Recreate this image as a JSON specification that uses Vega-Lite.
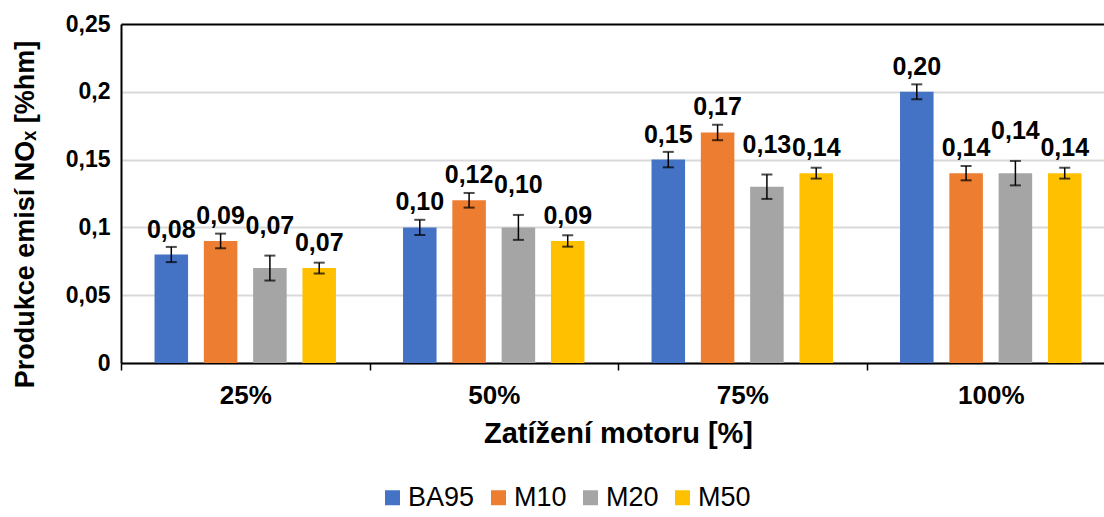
{
  "$schema": "https://vega.github.io/schema/vega-lite/v6.json",
  "width": 983,
  "height": 339,
  "autosize": {"type": "none"},
  "padding": {"left": 121, "top": 24, "right": 0, "bottom": 154},
  "background": "white",
  "config": {
    "locale": {"number": {"decimal": ",", "thousands": " ", "grouping": [3], "currency": ["", ""]}},
    "font": "Liberation Sans",
    "view": {"stroke": null}
  },
  "data": {
    "values": [
      {"load": "25%", "fuel": "BA95", "value": 0.08, "lo": 0.0744, "hi": 0.0856},
      {"load": "25%", "fuel": "M10", "value": 0.09, "lo": 0.0846, "hi": 0.0954},
      {"load": "25%", "fuel": "M20", "value": 0.07, "lo": 0.0608, "hi": 0.0792},
      {"load": "25%", "fuel": "M50", "value": 0.07, "lo": 0.066, "hi": 0.074},
      {"load": "50%", "fuel": "BA95", "value": 0.10, "lo": 0.0944, "hi": 0.1056},
      {"load": "50%", "fuel": "M10", "value": 0.12, "lo": 0.1146, "hi": 0.1254},
      {"load": "50%", "fuel": "M20", "value": 0.10, "lo": 0.0908, "hi": 0.1092},
      {"load": "50%", "fuel": "M50", "value": 0.09, "lo": 0.0858, "hi": 0.0942},
      {"load": "75%", "fuel": "BA95", "value": 0.15, "lo": 0.1443, "hi": 0.1557},
      {"load": "75%", "fuel": "M10", "value": 0.17, "lo": 0.1643, "hi": 0.1757},
      {"load": "75%", "fuel": "M20", "value": 0.13, "lo": 0.121, "hi": 0.139},
      {"load": "75%", "fuel": "M50", "value": 0.14, "lo": 0.136, "hi": 0.144},
      {"load": "100%", "fuel": "BA95", "value": 0.20, "lo": 0.1945, "hi": 0.2055},
      {"load": "100%", "fuel": "M10", "value": 0.14, "lo": 0.1347, "hi": 0.1453},
      {"load": "100%", "fuel": "M20", "value": 0.14, "lo": 0.131, "hi": 0.149},
      {"load": "100%", "fuel": "M50", "value": 0.14, "lo": 0.136, "hi": 0.144}
    ]
  },
  "encoding": {
    "x": {
      "field": "load",
      "type": "nominal",
      "sort": ["25%", "50%", "75%", "100%"],
      "scale": {"paddingInner": 0, "paddingOuter": 0, "range": [0, 994]},
      "axis": {
        "title": "Zatížení motoru [%]",
        "titleFont": "Liberation Sans",
        "titleFontSize": 29,
        "titleFontWeight": "bold",
        "titleColor": "black",
        "titleX": 497,
        "titlePadding": 11,
        "labelAngle": 0,
        "labelFont": "Liberation Sans",
        "labelFontSize": 26,
        "labelFontWeight": "bold",
        "labelColor": "black",
        "labelPadding": 12,
        "domainColor": "black",
        "domainWidth": 2,
        "ticks": true,
        "tickBand": "extent",
        "tickColor": "black",
        "tickWidth": 1.5,
        "tickSize": 7,
        "grid": false
      }
    },
    "xOffset": {
      "field": "fuel",
      "type": "nominal",
      "sort": ["BA95", "M10", "M20", "M50"],
      "scale": {"paddingInner": 0.32, "paddingOuter": 0.68}
    }
  },
  "layer": [
    {
      "mark": {"type": "bar"},
      "encoding": {
        "y": {
          "field": "value",
          "type": "quantitative",
          "scale": {"domain": [0, 0.25], "nice": false},
          "axis": {
            "title": "Produkce emisí NOₓ [%hm]",
            "titleFont": "Liberation Sans",
            "titleFontSize": 27,
            "titleFontWeight": "bold",
            "titleColor": "black",
            "titleY": 190,
            "titleX": -82,
            "values": [0, 0.05, 0.1, 0.15, 0.2, 0.25],
            "format": "~g",
            "labelFont": "Liberation Sans",
            "labelFontSize": 23,
            "labelFontWeight": "bold",
            "labelColor": "black",
            "labelPadding": 11,
            "ticks": false,
            "domainColor": "black",
            "domainWidth": 2,
            "grid": true,
            "gridColor": {"condition": {"test": "datum.value >= 0.249", "value": "#000000"}, "value": "#d9d9d9"},
            "gridWidth": 2
          }
        },
        "color": {
          "field": "fuel",
          "type": "nominal",
          "sort": ["BA95", "M10", "M20", "M50"],
          "scale": {"domain": ["BA95", "M10", "M20", "M50"], "range": ["#4472C4", "#ED7D31", "#A5A5A5", "#FFC000"]},
          "legend": {
            "orient": "none",
            "legendX": 258,
            "legendY": 460,
            "direction": "horizontal",
            "title": null,
            "symbolType": "square",
            "symbolSize": 225,
            "symbolStrokeWidth": 0,
            "labelFont": "Liberation Sans",
            "labelFontSize": 27,
            "labelColor": "black",
            "labelOffset": 2,
            "columnPadding": 10,
            "padding": 0
          }
        }
      }
    },
    {
      "mark": {"type": "rule", "color": "black", "strokeWidth": 1.5},
      "encoding": {
        "y": {"field": "lo", "type": "quantitative"},
        "y2": {"field": "hi"}
      }
    },
    {
      "mark": {"type": "tick", "color": "black", "size": 11, "thickness": 2},
      "encoding": {
        "y": {"field": "lo", "type": "quantitative"}
      }
    },
    {
      "mark": {"type": "tick", "color": "black", "size": 11, "thickness": 2},
      "encoding": {
        "y": {"field": "hi", "type": "quantitative"}
      }
    },
    {
      "transform": [{"filter": "datum.fuel !== 'M20'"}],
      "mark": {"type": "text", "baseline": "alphabetic", "dy": -17, "font": "Liberation Sans", "fontSize": 25, "fontWeight": "bold", "color": "black"},
      "encoding": {
        "y": {"field": "value", "type": "quantitative"},
        "text": {"field": "value", "type": "quantitative", "format": ".2f"}
      }
    },
    {
      "transform": [{"filter": "datum.fuel === 'M20'"}],
      "mark": {"type": "text", "baseline": "alphabetic", "dy": -34, "font": "Liberation Sans", "fontSize": 25, "fontWeight": "bold", "color": "black"},
      "encoding": {
        "y": {"field": "value", "type": "quantitative"},
        "text": {"field": "value", "type": "quantitative", "format": ".2f"}
      }
    }
  ]
}
